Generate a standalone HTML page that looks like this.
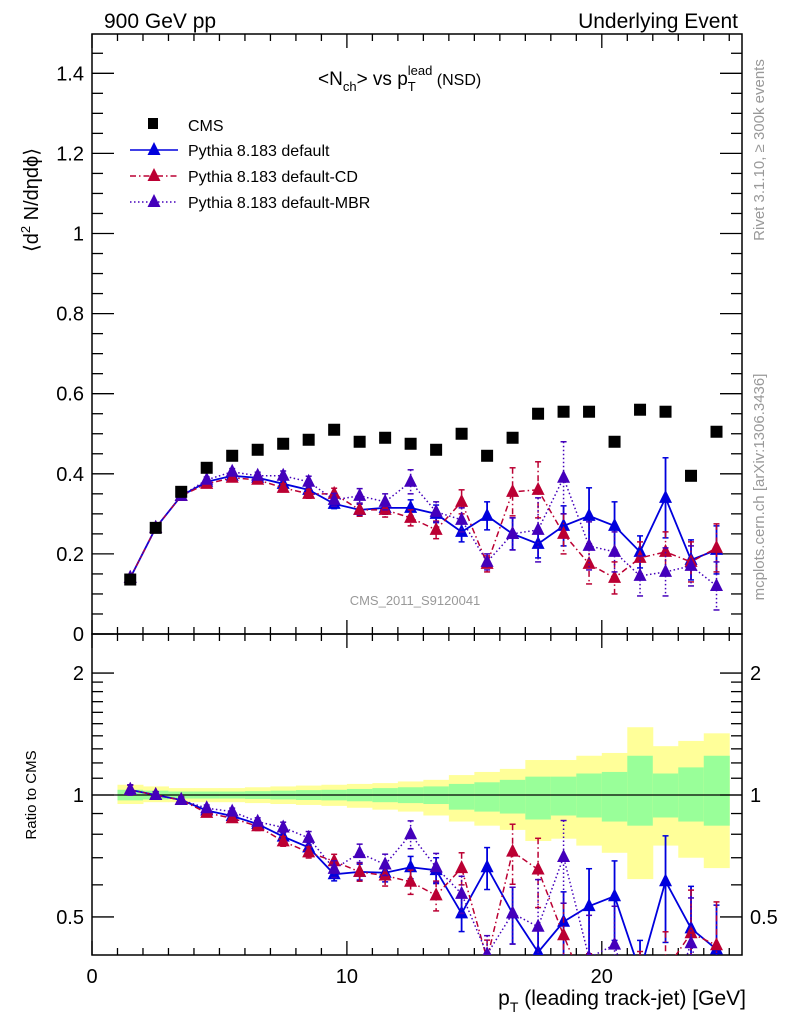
<!DOCTYPE html>
<html><head><meta charset="utf-8"><style>
html,body{margin:0;padding:0;background:#fff;overflow:hidden;width:786px;height:1024px}
svg{display:block;font-family:"Liberation Sans",sans-serif}
</style></head><body>
<svg id="c" width="786" height="1024" viewBox="0 0 786 1024"></svg>
<script>
const xc=[1.5,2.5,3.5,4.5,5.5,6.5,7.5,8.5,9.5,10.5,11.5,12.5,13.5,14.5,15.5,16.5,17.5,18.5,19.5,20.5,21.5,22.5,23.5,24.5];
const cms=[0.136,0.265,0.355,0.415,0.445,0.46,0.475,0.485,0.51,0.48,0.49,0.475,0.46,0.50,0.445,0.49,0.55,0.555,0.555,0.48,0.56,0.555,0.395,0.505];
const def=[0.14,0.265,0.345,0.38,0.395,0.39,0.375,0.36,0.325,0.31,0.315,0.315,0.30,0.255,0.295,0.25,0.225,0.27,0.295,0.27,0.205,0.34,0.185,0.21];
const defErr=[0.004,0.005,0.006,0.007,0.008,0.009,0.01,0.011,0.012,0.014,0.016,0.02,0.022,0.025,0.035,0.04,0.035,0.05,0.07,0.06,0.04,0.1,0.05,0.06];
const cd=[0.14,0.265,0.345,0.375,0.39,0.385,0.365,0.35,0.35,0.31,0.31,0.29,0.26,0.33,0.175,0.355,0.36,0.25,0.175,0.14,0.19,0.205,0.18,0.215];
const cdErr=[0.004,0.005,0.006,0.007,0.008,0.009,0.01,0.011,0.014,0.016,0.018,0.02,0.022,0.03,0.02,0.06,0.07,0.05,0.05,0.04,0.04,0.05,0.05,0.06];
const mbr=[0.14,0.265,0.345,0.385,0.405,0.395,0.395,0.38,0.335,0.345,0.33,0.38,0.305,0.285,0.18,0.25,0.26,0.39,0.22,0.205,0.145,0.155,0.17,0.12];
const mbrErr=[0.004,0.005,0.006,0.007,0.008,0.009,0.012,0.014,0.016,0.018,0.02,0.03,0.025,0.03,0.02,0.04,0.08,0.09,0.06,0.05,0.05,0.06,0.05,0.06];
const yelUp=[1.06,1.05,1.04,1.04,1.04,1.045,1.05,1.055,1.06,1.065,1.07,1.08,1.09,1.12,1.14,1.16,1.22,1.22,1.25,1.27,1.47,1.32,1.36,1.42];
const yelLo=[0.95,0.96,0.96,0.96,0.96,0.955,0.95,0.945,0.94,0.93,0.92,0.91,0.89,0.86,0.84,0.82,0.77,0.78,0.75,0.72,0.62,0.75,0.70,0.66];
const grnUp=[1.03,1.025,1.02,1.02,1.02,1.022,1.025,1.028,1.03,1.035,1.04,1.045,1.05,1.065,1.075,1.09,1.11,1.11,1.13,1.14,1.25,1.13,1.17,1.25];
const grnLo=[0.97,0.975,0.98,0.98,0.98,0.978,0.975,0.972,0.97,0.965,0.96,0.955,0.95,0.92,0.91,0.9,0.87,0.89,0.88,0.86,0.84,0.88,0.86,0.84];
const xTicks=[0,10,20];
const yTicks=[0,0.2,0.4,0.6,0.8,1,1.2,1.4];
const yTickLabels=["0","0.2","0.4","0.6","0.8","1","1.2","1.4"];
const rTicks=[0.5,1,2];

const svg=document.getElementById('c');
const NS='http://www.w3.org/2000/svg';
const L=92,R=742,T=34,MB=634,RB=955;
const X=v=>L+v*(R-L)/25.5;
const Y=v=>MB-v*400.5;
const RY=v=>795-405*Math.log10(v);
function el(t,a,p){const e=document.createElementNS(NS,t);for(const k in a)e.setAttribute(k,a[k]);(p||svg).appendChild(e);return e;}
function txt(s,a,p){const e=el('text',a,p);e.textContent=s;return e;}

const defs=el('defs',{});
const cp=el('clipPath',{id:'rc'},defs);el('rect',{x:L,y:MB,width:R-L,height:RB-MB},cp);
const cpm=el('clipPath',{id:'mc'},defs);el('rect',{x:L,y:T,width:R-L,height:MB-T},cpm);

const bg=el('g',{'clip-path':'url(#rc)'});

xc.forEach((x,i)=>{
 const y1=el('rect',{x:X(x-0.5),y:RY(yelUp[i]),width:X(x+0.5)-X(x-0.5)+0.5,height:RY(yelLo[i])-RY(yelUp[i]),fill:'#ffff99'},bg);
 
 const g1=el('rect',{x:X(x-0.5),y:RY(grnUp[i]),width:X(x+0.5)-X(x-0.5)+0.5,height:RY(grnLo[i])-RY(grnUp[i]),fill:'#99ff99'},bg);
 
});
el('line',{x1:L,x2:R,y1:RY(1),y2:RY(1),stroke:'#000','stroke-width':1.3});

el('rect',{x:L,y:T,width:R-L,height:MB-T,fill:'none',stroke:'#000','stroke-width':1.5});
el('rect',{x:L,y:MB,width:R-L,height:RB-MB,fill:'none',stroke:'#000','stroke-width':1.5});

for(let v=0;v<=25;v++){const big=v%10==0;const h=big?14:7;
 [[MB,-1],[T,1],[RB,-1],[MB,1]].forEach(([yy,d])=>el('line',{x1:X(v),x2:X(v),y1:yy,y2:yy+d*h,stroke:'#000','stroke-width':1.3}));}
xTicks.forEach(v=>{const t=txt(String(v),{x:X(v),y:983,'font-size':20,'text-anchor':'middle'});});
for(let k=0;k<=29;k++){const v=k*0.05;const big=k%4==0;const h=big?22:11;
 el('line',{x1:L,x2:L+h,y1:Y(v),y2:Y(v),stroke:'#000','stroke-width':1.3});
 el('line',{x1:R,x2:R-h,y1:Y(v),y2:Y(v),stroke:'#000','stroke-width':1.3});}
yTicks.forEach((v,i)=>{const t=txt(yTickLabels[i],{x:L-8,y:Y(v)+7,'font-size':20,'text-anchor':'end'});});
[0.4,0.5,0.6,0.7,0.8,0.9,1,1.1,1.2,1.3,1.4,1.5,1.6,1.7,1.8,1.9,2].forEach(v=>{const big=rTicks.includes(v);const h=big?22:11;
 if(RY(v)>RB)return;
 el('line',{x1:L,x2:L+h,y1:RY(v),y2:RY(v),stroke:'#000','stroke-width':1.3});
 el('line',{x1:R,x2:R-h,y1:RY(v),y2:RY(v),stroke:'#000','stroke-width':1.3});});
rTicks.forEach(v=>{
 const a=txt(String(v),{x:L-8,y:RY(v)+7,'font-size':20,'text-anchor':'end'});
 const b=txt(String(v),{x:R+8,y:RY(v)+7,'font-size':20});});

const series=[
 {n:'default',v:def,e:defErr,c:'#0000dd',dash:'',w:1.8},
 {n:'default-cd',v:cd,e:cdErr,c:'#bb0033',dash:'6,3,1.5,3',w:1.5},
 {n:'default-mbr',v:mbr,e:mbrErr,c:'#4400bb',dash:'1.5,2.5',w:1.5}];
function tri(g,x,y,c){el('polygon',{points:`${x},${y-8} ${x-6.5},${y+5} ${x+6.5},${y+5}`,fill:c},g);}
function drawSeries(s,ratio){
 const g=el('g',{'clip-path':ratio?'url(#rc)':'url(#mc)'});
 
 const f=ratio?(i,v)=>RY(v/cms[i]):(i,v)=>Y(v);
 el('polyline',{points:xc.map((x,i)=>X(x)+','+f(i,s.v[i])).join(' '),fill:'none',stroke:s.c,'stroke-width':s.w,'stroke-dasharray':s.dash},g);
 xc.forEach((x,i)=>{
  const y1=f(i,s.v[i]+s.e[i]),y2=f(i,Math.max(0.01,s.v[i]-s.e[i]));
  el('line',{x1:X(x),x2:X(x),y1:y1,y2:y2,stroke:s.c,'stroke-width':s.w,'stroke-dasharray':s.dash},g);
  el('line',{x1:X(x)-3,x2:X(x)+3,y1:y1,y2:y1,stroke:s.c,'stroke-width':1.5},g);
  el('line',{x1:X(x)-3,x2:X(x)+3,y1:y2,y2:y2,stroke:s.c,'stroke-width':1.5},g);
  tri(g,X(x),f(i,s.v[i]),s.c);
 });
}
series.forEach(s=>drawSeries(s,false));
const cg=el('g',{});

xc.forEach((x,i)=>el('rect',{x:X(x)-6,y:Y(cms[i])-6,width:12,height:12,fill:'#000'},cg));
series.forEach(s=>drawSeries(s,true));

function T2(s,a,name){const t=txt(s,a);return t;}
T2('900 GeV pp',{x:104,y:28,'font-size':21},'plot-title-left');
T2('Underlying Event',{x:738,y:28,'font-size':21,'text-anchor':'end'},'plot-title-right');
const tt=T2('',{x:318,y:85,'font-size':19},'plot-title');
tt.innerHTML='&lt;N<tspan font-size="13" dy="6">ch</tspan><tspan dy="-6">&gt; vs p</tspan><tspan font-size="13" dy="6">T</tspan><tspan font-size="13" dy="-16" dx="-8">lead</tspan><tspan font-size="16" dy="10"> (NSD)</tspan>';
T2('CMS_2011_S9120041',{x:415,y:605,'font-size':13,fill:'#999','text-anchor':'middle'},'analysis-label');
const yl=T2('',{x:0,y:0,'font-size':20,transform:'translate(38,200) rotate(-90)','text-anchor':'middle'},'y-axis-title');
yl.innerHTML='⟨d<tspan font-size="13" dy="-8">2</tspan><tspan dy="8"> N/dηdϕ⟩</tspan>';
T2('Ratio to CMS',{x:0,y:0,'font-size':15,transform:'translate(36,795) rotate(-90)','text-anchor':'middle'},'ratio-axis-title');
const xl=T2('',{x:746,y:1005,'font-size':21,'text-anchor':'end'},'x-axis-title');
xl.innerHTML='p<tspan font-size="14" dy="7">T</tspan><tspan dy="-7"> (leading track-jet) [GeV]</tspan>';
T2('Rivet 3.1.10, ≥ 300k events',{x:0,y:0,'font-size':15,fill:'#999',transform:'translate(764,150) rotate(-90)','text-anchor':'middle'},'rivet-label');
T2('mcplots.cern.ch [arXiv:1306.3436]',{x:0,y:0,'font-size':15,fill:'#999',transform:'translate(764,487) rotate(-90)','text-anchor':'middle'},'mcplots-label');

const lg=el('g',{});
el('rect',{x:148,y:118,width:10,height:11,fill:'#000'},lg);
txt('CMS',{x:188,y:131,'font-size':16},lg);
const labs=['Pythia 8.183 default','Pythia 8.183 default-CD','Pythia 8.183 default-MBR'];
series.forEach((s,i)=>{const yy=150+26*i;
 const e=el('g',{},lg);
 el('line',{x1:130,x2:178,y1:yy,y2:yy,stroke:s.c,'stroke-width':1.5,'stroke-dasharray':s.dash},e);
 tri(e,154,yy,s.c);
 txt(labs[i],{x:188,y:yy+6,'font-size':16},e);});
</script>
</body></html>
